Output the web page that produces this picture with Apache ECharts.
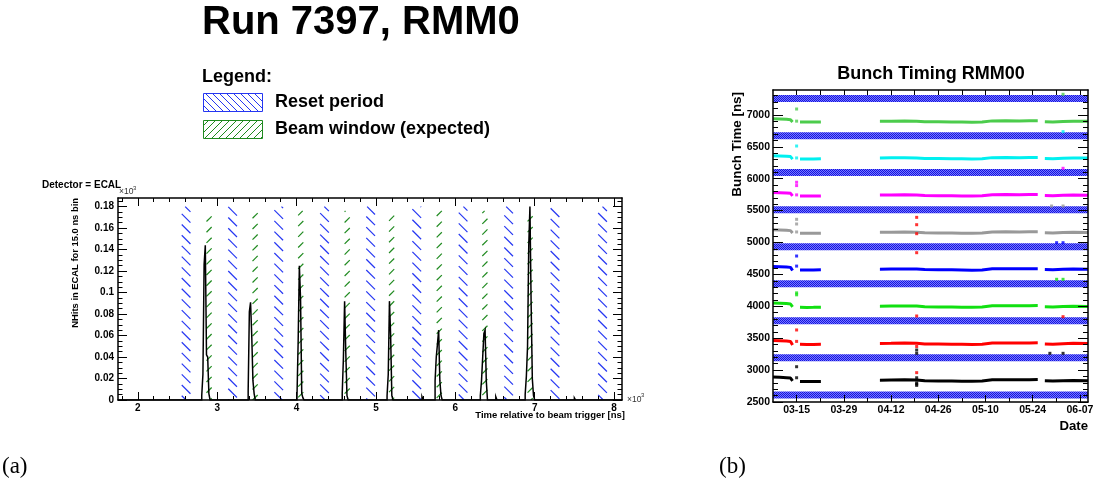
<!DOCTYPE html>
<html><head><meta charset="utf-8">
<script src="https://cdn.jsdelivr.net/npm/echarts@6/dist/echarts.min.js"></script>
<style>html,body{margin:0;padding:0;background:#fff}#c{width:1097px;height:481px}</style>
</head><body><div id="c"></div>
<script>
// ================= DATA =================
// Left panel: ECAL hits per 15 ns bin (x10^3), one block of bins per bunch
const binWidthNs = 15;
const bunchStartNs = [2805, 3390, 4005, 4575, 5140, 5745, 6315, 6880, 5580, 6510, 7500];
const bunchCounts = [
  [0.004, 0.024, 0.126, 0.144, 0.042, 0.040, 0.006],
  [0.008, 0.082, 0.091, 0.060, 0.018, 0.006],
  [0.003, 0.055, 0.125, 0.094, 0.006, 0.002],
  [0.006, 0.039, 0.092, 0.044, 0.004],
  [0.004, 0.024, 0.092, 0.060, 0.004],
  [0.018, 0.040, 0.052, 0.065, 0.018, 0.004],
  [0.004, 0.018, 0.040, 0.062, 0.065, 0.018],
  [0.005, 0.022, 0.050, 0.143, 0.180, 0.090, 0.020, 0.004],
  [0.003], [0.003], [0.002]
];
// Reset periods [start, end] ns (shared by both panels) and expected beam windows
const resetPeriodsNs = [[2553,2663],[3139,3249],[3720,3830],[4297,4407],[4878,4988],[5459,5569],[6043,6153],[6617,6727],[7201,7311],[7800,7910]];
const beamWindowsNs = [[2865,2930],[3445,3510],[4020,4085],[4605,4670],[5165,5230],[5765,5830],[6340,6405],[6910,6975]];
const resetBandTop = 0.18;
const beamBandTop = 0.176;
const xTicksLeft = [2000, 3000, 4000, 5000, 6000, 7000, 8000];
const yTicksLeft = [0, 0.02, 0.04, 0.06, 0.08, 0.1, 0.12, 0.14, 0.16, 0.18];

// Right panel: bunch timing vs date (day number counted from Mar 1)
const dateTicks = [14, 28, 42, 56, 70, 84, 98];
const dateTickLabels = ['03-15', '03-29', '04-12', '04-26', '05-10', '05-24', '06-07'];
const yTicksRight = [2500, 3000, 3500, 4000, 4500, 5000, 5500, 6000, 6500, 7000];
const timingDays = [7, 9, 11, 12.2, 12.8, null, 15, 17, 19, 21.2, null, 38.7, 42, 46, 49.6, 52, 56, 60, 63, 66, 69, 72, 76, 80, 83, 85.5, null, 87.6, 90, 93, 96, 100.4];
const bunch1 = [2890,2886,2881,2875,2832, null, 2822,2820,2820,2822, null, 2842,2845,2848,2845,2832,2830,2828,2826,2824,2828,2848,2850,2848,2850,2852, null, 2832,2828,2834,2836,2833];
const bunch2 = [3465,3461,3456,3450,3395, null, 3405,3402,3403,3405, null, 3418,3420,3423,3420,3410,3408,3406,3404,3402,3406,3424,3426,3424,3426,3428, null, 3410,3405,3414,3420,3416];
const bunch3 = [4050,4046,4042,4036,3990, null, 3985,3983,3984,3986, null, 4002,4004,4006,4003,3992,3990,3988,3986,3984,3988,4008,4010,4008,4010,4011, null, 3994,3990,3996,4000,3997];
const bunch4 = [4625,4621,4616,4610,4560, null, 4570,4568,4568,4571, null, 4582,4584,4586,4583,4575,4573,4571,4569,4566,4570,4588,4590,4588,4590,4590, null, 4576,4572,4580,4584,4581];
const bunch5 = [5200,5196,5192,5186,5148, null, 5146,5144,5143,5146, null, 5160,5162,5164,5161,5152,5150,5148,5146,5144,5148,5166,5168,5166,5168,5169, null, 5152,5148,5156,5160,5157];
const bunch6 = [5784,5780,5776,5770,5730, null, 5729,5727,5727,5730, null, 5744,5746,5748,5745,5736,5734,5732,5730,5728,5732,5750,5752,5750,5752,5752, null, 5736,5732,5740,5745,5742];
const bunch7 = [6360,6356,6352,6346,6306, null, 6310,6308,6308,6311, null, 6325,6327,6329,6326,6317,6315,6313,6311,6308,6312,6330,6332,6330,6332,6332, null, 6318,6314,6322,6326,6323];
const bunch8 = [6938,6934,6930,6924,6888, null, 6889,6887,6887,6890, null, 6900,6902,6904,6901,6893,6891,6889,6887,6885,6889,6906,6908,6906,6908,6908, null, 6894,6890,6898,6902,6899];
const bunchSeries = [bunch1, bunch2, bunch3, bunch4, bunch5, bunch6, bunch7, bunch8];
// isolated points [day, ns, bunch index]
const outliers = [
  [14,3053,0],[14,2880,0],[14,3629,1],[14,3450,1],[14,4210,2],[14,4180,2],[14,4788,3],[14,4630,3],
  [14,5363,4],[14,5290,4],[14,5165,4],[14,5944,5],[14,5892,5],[14,5746,5],[14,6512,6],[14,6325,6],[14,7092,7],[14,6902,7],
  [49.6,5394,1],[49.6,5279,1],[49.6,5138,1],[49.6,4840,1],[49.6,3848,1],[49.6,2960,1],[49.6,3370,1],
  [49.6,3315,0],[49.6,3263,0],[49.6,2800,0],[49.6,2780,0],[49.6,2880,0],[49.6,2760,0],
  [89.1,3263,0],[93,3263,0],[93,3837,1],[91.1,4423,2],[93,4423,2],[91.1,4997,3],[93,4997,3],
  [89.6,5572,4],[93,5572,4],[93,6163,5],[93,6737,6],[93,7323,7]
];
const bunchColors = ['#000000','#ff0000','#11e011','#0000ff','#999999','#ff00ff','#00f0f0','#4ccc4c'];

// ================= HELPERS =================
const FONT = '"Liberation Sans", Arial, Helvetica, sans-serif';
function hatch(x0, y0, x1, y1, s, dir) {
  const out = [];
  if (dir < 0) { // "\" lines: y - x = c
    for (let c = Math.ceil((y0 - x1) / s) * s; c <= y1 - x0; c += s) {
      const xs = Math.max(x0, y0 - c), xe = Math.min(x1, y1 - c);
      if (xe > xs) out.push([xs, xs + c, xe, xe + c]);
    }
  } else { // "/" lines: y + x = c
    for (let c = Math.ceil((x0 + y0) / s) * s; c <= x1 + y1; c += s) {
      const xs = Math.max(x0, c - y1), xe = Math.min(x1, c - y0);
      if (xe > xs) out.push([xs, c - xs, xe, c - xe]);
    }
  }
  return out;
}
function hatchEls(lines, color, lw) {
  return lines.map(l => ({type: 'line', shape: {x1: l[0], y1: l[1], x2: l[2], y2: l[3]}, style: {stroke: color, lineWidth: lw}}));
}
function axisPair(gridIndex, position, min, max, majorVals, minorVals, majorLen, minorLen, label) {
  const base = {type: 'value', gridIndex, position, min, max, splitLine: {show: false}, axisPointer: {show: false}, z: 6};
  const major = Object.assign({}, base, {
    axisLine: {show: true, onZero: false, lineStyle: {color: '#000', width: 1.5}},
    axisTick: {show: true, inside: true, length: majorLen, customValues: majorVals, lineStyle: {color: '#000', width: 1}},
    axisLabel: label ? Object.assign({show: true, customValues: majorVals, color: '#000', fontWeight: 'bold', fontFamily: FONT}, label) : {show: false}
  });
  const minor = Object.assign({}, base, {
    axisLine: {show: false, onZero: false},
    axisTick: {show: true, inside: true, length: minorLen, customValues: minorVals, lineStyle: {color: '#000', width: 1}},
    axisLabel: {show: false}
  });
  return [major, minor];
}
const xMinorLeft = []; for (let v = 1800; v <= 8000; v += 200) if (v % 1000) xMinorLeft.push(v);
const yMinorLeft = []; for (let i = 1; i <= 37; i++) if (i % 4) yMinorLeft.push(+(i * 0.005).toFixed(3));
const dateMinor = [21, 35, 49, 63, 77, 91];
const yMinorRight = []; for (let v = 2600; v <= 7300; v += 100) if (v % 500) yMinorRight.push(v);

// histogram step outline
const order = bunchStartNs.map((s, i) => i).sort((a, b) => bunchStartNs[a] - bunchStartNs[b]);
const histData = [[1750, 0]];
order.forEach(i => {
  const s = bunchStartNs[i];
  histData.push([s, 0]);
  bunchCounts[i].forEach((v, k) => { histData.push([s + k * binWidthNs, v], [s + (k + 1) * binWidthNs, v]); });
  histData.push([s + bunchCounts[i].length * binWidthNs, 0]);
});
histData.push([8100, 0]);

// checker pattern for right-panel reset bands
const checker = document.createElement('canvas');
checker.width = 2; checker.height = 2;
(function () { const g = checker.getContext('2d'); g.fillStyle = '#7878ff'; g.fillRect(0, 0, 2, 2); g.fillStyle = '#1414e0'; g.fillRect(0, 0, 1, 1); g.fillRect(1, 1, 1, 1); })();

const chart = echarts.init(document.getElementById('c'), null, {renderer: 'canvas'});

const xAxes = [
  ...axisPair(0, 'bottom', 1750, 8100, xTicksLeft, xMinorLeft, 8, 4, {fontSize: 10, margin: 3, formatter: v => String(v / 1000)}),
  ...axisPair(0, 'top', 1750, 8100, xTicksLeft, xMinorLeft, 8, 4, null),
  ...axisPair(1, 'bottom', 7, 100.4, dateTicks, dateMinor, 7, 4, {fontSize: 10.5, margin: 3, formatter: v => dateTickLabels[dateTicks.indexOf(v)]}),
  ...axisPair(1, 'top', 7, 100.4, dateTicks, dateMinor, 5, 5, null)
];
const yAxes = [
  ...axisPair(0, 'left', 0, 0.188, yTicksLeft, yMinorLeft, 9, 4.5, {fontSize: 10, margin: 4, formatter: v => String(+(+v).toFixed(2))}),
  ...axisPair(0, 'right', 0, 0.188, yTicksLeft, yMinorLeft, 9, 4.5, null),
  ...axisPair(1, 'left', 2500, 7390, yTicksRight, yMinorRight, 10, 5, {fontSize: 10.5, margin: 3, formatter: v => String(Math.round(v))}),
  ...axisPair(1, 'right', 2500, 7390, yTicksRight, yMinorRight, 10, 5, null)
];

const series = [
  {
    type: 'custom', xAxisIndex: 0, yAxisIndex: 0, clip: true, z: 2,
    data: resetPeriodsNs.map(p => [p[0], p[1], resetBandTop]), encode: {x: [0, 1], y: 2},
    renderItem: (params, api) => {
      const a = api.coord([api.value(0), api.value(2)]), b = api.coord([api.value(1), 0]);
      return {type: 'group', children: hatchEls(hatch(a[0], a[1], b[0], b[1], 10.7, -1), '#2536f2', 1.2)};
    }
  },
  {
    type: 'custom', xAxisIndex: 0, yAxisIndex: 0, clip: true, z: 2,
    data: beamWindowsNs.map(p => [p[0], p[1], beamBandTop]), encode: {x: [0, 1], y: 2},
    renderItem: (params, api) => {
      const a = api.coord([api.value(0), api.value(2)]), b = api.coord([api.value(1), 0]);
      return {type: 'group', children: hatchEls(hatch(a[0], a[1], b[0], b[1], 10.7, 1), '#1f8a1f', 1.2)};
    }
  },
  {
    type: 'line', xAxisIndex: 0, yAxisIndex: 0, data: histData, symbol: 'none', z: 4,
    lineStyle: {color: '#000', width: 1.5, join: 'miter'}, animation: false
  },
  {
    type: 'custom', xAxisIndex: 4, yAxisIndex: 4, clip: true, z: 2,
    data: resetPeriodsNs.map(p => [p[0], p[1]]),
    renderItem: (params, api) => {
      const cs = params.coordSys;
      const yTop = api.coord([50, api.value(1)])[1], yBot = api.coord([50, api.value(0)])[1];
      return {type: 'rect', shape: {x: cs.x, y: yTop, width: cs.width, height: yBot - yTop},
        style: {fill: {type: 'pattern', image: checker, repeat: 'repeat'}}};
    }
  },
  ...bunchSeries.map((vals, b) => ({
    type: 'line', xAxisIndex: 4, yAxisIndex: 4, symbol: 'none', z: 4, connectNulls: false,
    data: timingDays.map((d, i) => d == null ? ['-', '-'] : [d, vals[i]]),
    lineStyle: {color: bunchColors[b], width: 3}
  })),
  {
    type: 'scatter', xAxisIndex: 4, yAxisIndex: 4, symbol: 'rect', symbolSize: 3, z: 5,
    data: outliers, itemStyle: {color: p => bunchColors[p.data[2]]}
  }
];

function txt(x, y, text, size, opts) {
  return Object.assign({type: 'text', x, y, style: Object.assign({text, fill: '#000', font: 'bold ' + size + 'px ' + FONT, textAlign: 'left', textVerticalAlign: 'middle'}, (opts || {}).style || {})}, opts && opts.rotation ? {rotation: opts.rotation} : {});
}
const graphics = [
  txt(202, 23, 'Run 7397, RMM0', 40),
  txt(202, 77, 'Legend:', 18),
  {type: 'rect', shape: {x: 203.5, y: 93.5, width: 59, height: 18}, style: {fill: 'none', stroke: '#2536f2', lineWidth: 1}},
  {type: 'group', children: hatchEls(hatch(204, 94, 262, 111, 7, -1), '#2536f2', 1)},
  txt(275, 102, 'Reset period', 18),
  {type: 'rect', shape: {x: 203.5, y: 120.5, width: 59, height: 18}, style: {fill: 'none', stroke: '#1f8a1f', lineWidth: 1}},
  {type: 'group', children: hatchEls(hatch(204, 121, 262, 138, 7, 1), '#1f8a1f', 1)},
  txt(275, 129, 'Beam window (expected)', 18),
  txt(42, 185.5, 'Detector = ECAL', 10),
  txt(75, 198, 'NHits in ECAL for 15.0 ns bin', 9.4, {rotation: Math.PI / 2, style: {textAlign: 'right'}}),
  txt(625, 415, 'Time relative to beam trigger [ns]', 9.5, {style: {textAlign: 'right'}}),
  txt(119, 192, '\u00d710', 8.5, {style: {font: '8.5px ' + FONT, fill: '#333'}}),
  txt(133, 188, '3', 6, {style: {font: '6px ' + FONT, fill: '#333'}}),
  txt(627, 399.5, '\u00d710', 8.5, {style: {font: '8.5px ' + FONT, fill: '#333'}}),
  txt(641, 395.5, '3', 6, {style: {font: '6px ' + FONT, fill: '#333'}}),
  txt(931, 74.5, 'Bunch Timing RMM00', 18, {style: {textAlign: 'center'}}),
  txt(737.5, 92, 'Bunch Time [ns]', 13.4, {rotation: Math.PI / 2, style: {textAlign: 'right'}}),
  txt(1088, 426, 'Date', 13.2, {style: {textAlign: 'right'}}),
  txt(2, 467, '(a)', 23, {style: {font: '23px "Liberation Serif", "DejaVu Serif", serif'}}),
  txt(719, 467, '(b)', 23, {style: {font: '23px "Liberation Serif", "DejaVu Serif", serif'}})
];

chart.setOption({
  animation: false,
  backgroundColor: '#fff',
  grid: [
    {left: 118, top: 198, width: 504, height: 202, containLabel: false, outerBoundsMode: 'none'},
    {left: 773, top: 90, width: 315, height: 312, containLabel: false, outerBoundsMode: 'none'}
  ],
  xAxis: xAxes,
  yAxis: yAxes,
  series: series,
  graphic: graphics
});
</script></body></html>
